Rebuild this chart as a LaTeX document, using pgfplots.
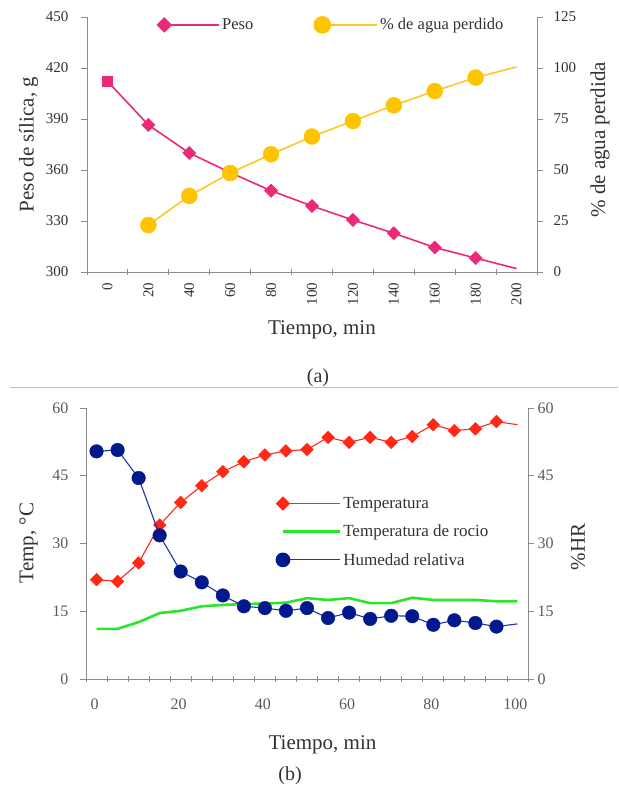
\documentclass[border=0pt]{standalone}
\usepackage{pgfplots}
\usepackage{pgfplotstable}
\pgfplotsset{compat=1.18}
\usepackage{fontspec}
\setmainfont{Liberation Serif}

\definecolor{pinkc}{RGB}{236,40,120}
\definecolor{yellowc}{RGB}{255,196,0}
\definecolor{yellowl}{RGB}{250,200,40}
\definecolor{redc}{RGB}{255,40,20}
\definecolor{greenc}{RGB}{40,230,40}
\definecolor{navyc}{RGB}{0,25,140}
\definecolor{bluel}{RGB}{30,50,170}
\definecolor{axgray}{RGB}{140,140,140}
\definecolor{txtdark}{RGB}{50,50,50}
\definecolor{txtgray}{RGB}{90,90,90}

\pgfplotstableread{
t w
0 412.2
20 386.5
40 370.0
60 358.5
80 347.8
100 338.8
120 330.6
140 322.8
160 314.4
180 308.2
200 302.0
}\pesotab

\pgfplotstableread{
t p
20 23.0
40 37.3
60 48.5
80 57.7
100 66.4
120 74.0
140 81.7
160 88.7
180 95.3
200 100.5
}\aguatab

\pgfplotstableread{
t T
0 22.0
5 21.6
10 25.7
15 34.1
20 39.1
25 42.8
30 45.9
35 48.1
40 49.6
45 50.5
50 50.8
55 53.5
60 52.4
65 53.5
70 52.4
75 53.7
80 56.3
85 55.0
90 55.4
95 57.0
100 56.3
}\temptab

\pgfplotstableread{
t D
0 11.1
5 11.1
10 12.6
15 14.6
20 15.1
25 16.1
30 16.4
35 16.6
40 16.7
45 16.9
50 17.9
55 17.5
60 17.9
65 16.8
70 16.8
75 18.0
80 17.5
85 17.5
90 17.5
95 17.2
100 17.2
}\rociotab

\pgfplotstableread{
t H
0 50.4
5 50.7
10 44.5
15 31.8
20 23.8
25 21.4
30 18.5
35 16.1
40 15.7
45 15.1
50 15.7
55 13.5
60 14.7
65 13.3
70 14.0
75 13.9
80 12.0
85 13.0
90 12.4
95 11.6
100 12.2
}\hrtab

\pgfplotsset{
  base/.style={
    scale only axis,
    axis line style={axgray, line width=0.9pt},
    tick style={axgray, line width=0.9pt},
    /pgf/number format/assume math mode=true,
    /pgf/number format/1000 sep={},
    clip=false,
  },
  excelleg/.style={
    legend image code/.code={\draw[##1, mark repeat=2, mark phase=1] plot coordinates {(0pt,0pt) (#1,0pt)};}
  },
}

\begin{document}
\begin{tikzpicture}[x=1pt,y=1pt]
\path[use as bounding box] (0,0) rectangle (618,786);

% ---------------- (a) left axis
\begin{axis}[base,
  at={(87pt,514pt)}, anchor=south west, width=450pt, height=255pt,
  xmin=-10, xmax=210, ymin=300, ymax=450,
  axis x line*=bottom, axis y line*=left,
  xtick={-10,10,...,210}, xticklabels={},
  extra x ticks={0,20,...,200},
  extra x tick labels={0,20,40,60,80,100,120,140,160,180,200},
  extra x tick style={major tick length=0pt},
  ytick={300,330,...,450},
  xtick align=center, ytick align=outside,
  major tick length=6pt,
  ticklabel style={font=\fontsize{15}{15}\selectfont, text=txtdark},
  xticklabel style={rotate=90, anchor=east, xshift=-7pt},
  yticklabel style={xshift=-9pt},
  xlabel={Tiempo, min},
  ylabel={Peso de sílica, g},
  every axis x label/.style={at={(axis description cs:0.522,-0.227)}, anchor=center, font=\fontsize{21}{21}\selectfont, text=txtdark},
  every axis y label/.style={at={(axis description cs:-0.13,0.5)}, anchor=center, rotate=90, font=\fontsize{21}{21}\selectfont, text=txtdark},
]
\addplot[pinkc, line width=1.6pt, no marks] table[x=t,y=w] {\pesotab};
\addplot[pinkc, only marks, mark=square*, mark size=4.7pt, mark options={rotate=45, fill=pinkc, draw=pinkc}, restrict x to domain=10:190] table[x=t,y=w] {\pesotab};
\addplot[pinkc, only marks, mark=square*, mark size=5pt, mark options={fill=pinkc, draw=pinkc}, restrict x to domain=-1:1] table[x=t,y=w] {\pesotab};
\end{axis}

% ---------------- (a) right axis
\begin{axis}[base,
  at={(87pt,514pt)}, anchor=south west, width=450pt, height=255pt,
  xmin=-10, xmax=210, ymin=0, ymax=125,
  axis x line=none, axis y line*=right,
  ytick={0,25,...,125},
  ytick align=outside, major tick length=6pt,
  ticklabel style={font=\fontsize{15}{15}\selectfont, text=txtdark},
  yticklabel style={xshift=7pt},
  ylabel={\% de agua perdida},
  every axis y label/.style={at={(axis description cs:1.14,0.518)}, anchor=center, rotate=90, font=\fontsize{21}{21}\selectfont, text=txtdark},
  excelleg=55pt,
  legend style={draw=none, fill=none, at={(axis description cs:0.15,0.969)}, anchor=west,
    font=\fontsize{16.5}{18}\selectfont, text=txtdark,
    /tikz/every even column/.append style={column sep=59pt}},
  legend columns=2,
]
\addlegendimage{pinkc, line width=1.6pt, mark=square*, mark size=4.7pt, mark options={rotate=45, fill=pinkc, draw=pinkc}}
\addlegendentry{Peso}
\addplot[yellowl, line width=1.6pt, no marks, forget plot] table[x=t,y=p] {\aguatab};
\addplot[yellowc, only marks, mark=*, mark size=8pt, mark options={fill=yellowc, draw=yellowc}, restrict x to domain=10:190, forget plot] table[x=t,y=p] {\aguatab};
\addlegendimage{yellowl, line width=1.6pt, mark=*, mark size=8pt, mark options={fill=yellowc, draw=yellowc}}
\addlegendentry{\% de agua perdido}
\end{axis}

\node[font=\fontsize{20}{20}\selectfont, text=txtdark] at (318,408) {(a)};
\draw[line width=1pt, color={rgb,255:red,190;green,190;blue,190}] (10,398) -- (618,398);

% ---------------- (b) left axis
\begin{axis}[base,
  at={(86pt,107pt)}, anchor=south west, width=442pt, height=271pt,
  xmin=-2.5, xmax=102.5, ymin=0, ymax=60,
  axis x line*=bottom, axis y line*=left,
  xtick={-2.5,2.5,...,102.5}, xticklabels={},
  extra x ticks={0,20,...,100},
  extra x tick labels={0,20,40,60,80,100},
  extra x tick style={major tick length=0pt},
  ytick={0,15,...,60},
  xtick align=center, ytick align=outside,
  major tick length=6pt,
  ticklabel style={font=\fontsize{16}{16}\selectfont, text=txtgray},
  xticklabel style={yshift=-16pt, xshift=-2pt},
  yticklabel style={xshift=-8pt},
  xlabel={Tiempo, min},
  ylabel={Temp, °C},
  every axis x label/.style={at={(axis description cs:0.535,-0.2435)}, anchor=center, font=\fontsize{21}{21}\selectfont, text=txtdark},
  every axis y label/.style={at={(axis description cs:-0.13,0.502)}, anchor=center, rotate=90, font=\fontsize{21}{21}\selectfont, text=txtdark},
]
\addplot[greenc, line width=2.6pt, no marks] table[x=t,y=D] {\rociotab};
\addplot[redc, line width=1.1pt, no marks] table[x=t,y=T] {\temptab};
\addplot[redc, only marks, mark=square*, mark size=4.5pt, mark options={rotate=45, fill=redc, draw=redc}, restrict x to domain=-1:96] table[x=t,y=T] {\temptab};
\end{axis}

% ---------------- (b) right axis
\begin{axis}[base,
  at={(86pt,107pt)}, anchor=south west, width=442pt, height=271pt,
  xmin=-2.5, xmax=102.5, ymin=0, ymax=60,
  axis x line=none, axis y line*=right,
  ytick={0,15,...,60},
  ytick align=outside, major tick length=6pt,
  ticklabel style={font=\fontsize{16}{16}\selectfont, text=txtgray},
  ylabel={\%HR},
  every axis y label/.style={at={(axis description cs:1.113,0.487)}, anchor=center, rotate=90, font=\fontsize{21}{21}\selectfont, text=txtdark},
  excelleg=57pt,
  legend style={draw=none, fill=none, at={(axis description cs:0.423,0.686)}, anchor=north west,
    font=\fontsize{17}{18}\selectfont, text=txtdark, row sep=11pt},
  legend cell align=left,
]
\addlegendimage{redc, line width=1.1pt, mark=square*, mark size=4.5pt, mark options={rotate=45, fill=redc, draw=redc}}
\addlegendentry{Temperatura}
\addlegendimage{greenc, line width=2.6pt, no marks}
\addlegendentry{Temperatura de rocio}
\addplot[bluel, line width=1.1pt, no marks, forget plot] table[x=t,y=H] {\hrtab};
\addplot[navyc, only marks, mark=*, mark size=6.8pt, mark options={fill=navyc, draw=navyc}, restrict x to domain=-1:96, forget plot] table[x=t,y=H] {\hrtab};
\addlegendimage{bluel, line width=1.1pt, mark=*, mark size=6.8pt, mark options={fill=navyc, draw=navyc}}
\addlegendentry{Humedad relativa}
\end{axis}

\node[font=\fontsize{20}{20}\selectfont, text=txtdark] at (290,10) {(b)};
\end{tikzpicture}
\end{document}
